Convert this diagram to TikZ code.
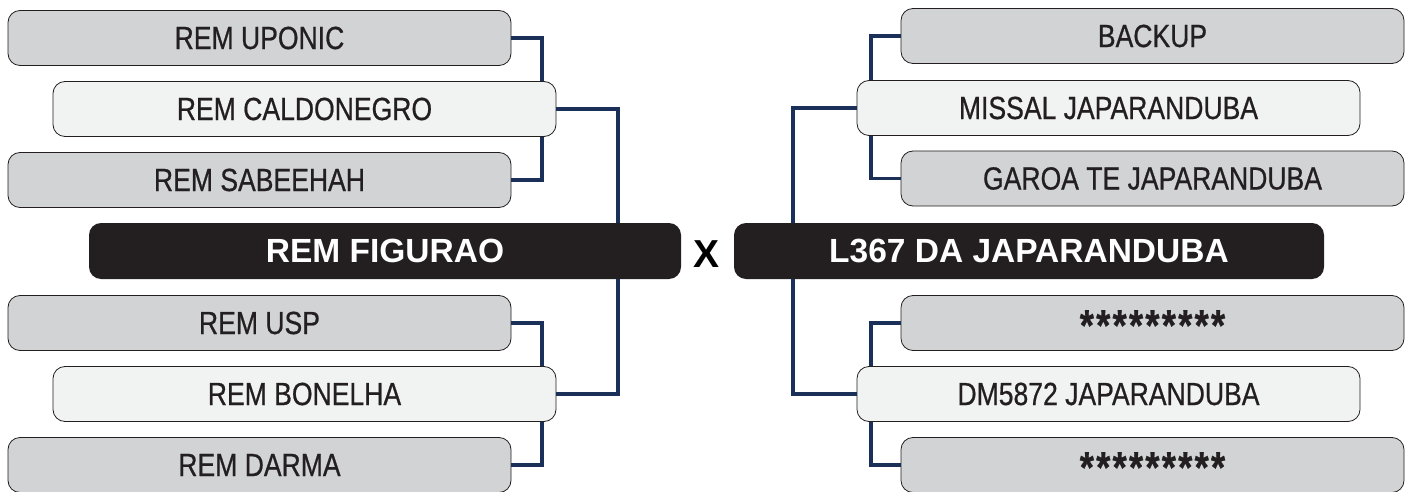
\documentclass[tikz,border=0pt]{standalone}
\usepackage{fontspec}
\setmainfont{Liberation Sans}
\newfontfamily\condfont{Liberation Sans}[FakeStretch=0.83, FakeBold=0.6]
\definecolor{boxgray}{HTML}{D1D3D4}
\definecolor{boxlight}{HTML}{F1F2F2}
\definecolor{boxdark}{HTML}{231F20}
\definecolor{navy}{HTML}{1B3058}
\tikzset{
  base/.style={rectangle, rounded corners=12pt, minimum width=503pt, minimum height=55pt, inner sep=0pt, draw=boxdark, line width=0.8pt, text=boxdark, font=\condfont\fontsize{32}{36}\selectfont},
  graybox/.style={base, fill=boxgray},
  lightbox/.style={base, fill=boxlight},
  darkbox/.style={rectangle, rounded corners=12pt, minimum height=56pt, inner sep=0pt, fill=boxdark, text=white, font=\fontsize{33.5}{38}\selectfont\bfseries},
  conn/.style={draw=navy, line width=3.6pt}
}
\newcommand{\onestar}{*\kern2.2pt}
\newcommand{\stars}{\smash{\raisebox{-17.5pt}{\fontsize{44}{44}\selectfont\bfseries\onestar\onestar\onestar\onestar\onestar\onestar\onestar\onestar*}}}
\begin{document}
\begin{tikzpicture}[x=1pt,y=-1pt]
\useasboundingbox (0,0) rectangle (1409,492);
\coordinate (xl) at (542,0);
\coordinate (xm) at (618,0);
\coordinate (xr) at (871,0);
\coordinate (xs) at (793,0);
% Left side nodes
\node[graybox] (uponic) at (259.5,38) {REM UPONIC};
\node[lightbox] (caldo) at (304.5,109) {REM CALDONEGRO};
\node[graybox] (sabee) at (259.5,180) {REM SABEEHAH};
\node[darkbox, minimum width=592pt] (fig) at (385,251) {REM FIGURAO};
\node[graybox] (usp) at (259.5,323) {REM USP};
\node[lightbox] (bonel) at (304.5,394) {REM BONELHA};
\node[graybox] (darma) at (259.5,465) {REM DARMA};
% Right side nodes
\node[graybox] (backup) at (1152.5,36) {BACKUP};
\node[lightbox] (missal) at (1108.5,108) {MISSAL JAPARANDUBA};
\node[graybox] (garoa) at (1152.5,178.5) {GAROA TE JAPARANDUBA};
\node[darkbox, minimum width=590pt] (l367) at (1029,251) {L367 DA JAPARANDUBA};
\node[graybox] (starA) at (1152.5,323) {\stars};
\node[lightbox] (dm) at (1108.5,394) {DM5872 JAPARANDUBA};
\node[graybox] (starB) at (1152.5,465) {\stars};
% X
\node[font=\fontsize{39}{42}\selectfont\bfseries, text=black] (vs) at (706,254) {X};
% Connectors
\draw[conn] (uponic.east) -| (caldo.north -| xl);
\draw[conn] (sabee.east) -| (caldo.south -| xl);
\draw[conn] (caldo.east) -| (fig.north -| xm);
\draw[conn] (usp.east) -| (bonel.north -| xl);
\draw[conn] (darma.east) -| (bonel.south -| xl);
\draw[conn] (bonel.east) -| (fig.south -| xm);
\draw[conn] (backup.west) -| (missal.north -| xr);
\draw[conn] (garoa.west) -| (missal.south -| xr);
\draw[conn] (missal.west) -| (l367.north -| xs);
\draw[conn] (starA.west) -| (dm.north -| xr);
\draw[conn] (starB.west) -| (dm.south -| xr);
\draw[conn] (dm.west) -| (l367.south -| xs);
\end{tikzpicture}
\end{document}
